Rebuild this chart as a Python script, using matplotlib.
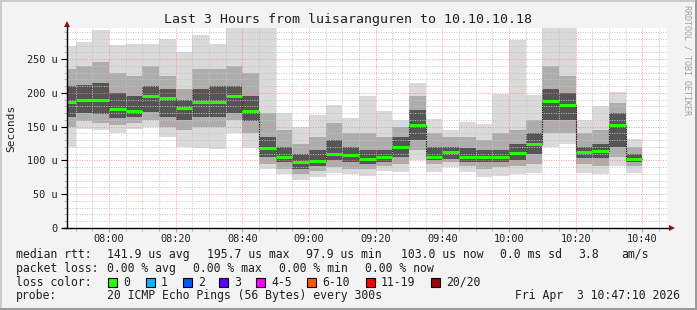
import matplotlib
matplotlib.use("Agg")
import matplotlib.pyplot as plt
from matplotlib.patches import Rectangle
import pandas as pd

# ---- data ----
interval_start = ["07:45", "07:50", "07:55", "08:00", "08:05", "08:10", "08:15",
                  "08:20", "08:25", "08:30", "08:35", "08:40", "08:45", "08:50",
                  "08:55", "09:00", "09:05", "09:10", "09:15", "09:20", "09:25",
                  "09:30", "09:35", "09:40", "09:45", "09:50", "09:55", "10:00",
                  "10:05", "10:10", "10:15", "10:20", "10:25", "10:30", "10:35"]
rtt_min = [120, 146, 145, 140, 147, 150, 135, 120, 118, 117, 140, 119, 87, 80, 71,
           76, 81, 80, 77.5, 85, 83, 100.6, 83, 90.7, 83, 75, 77.5, 80, 82, 120,
           124, 82, 80, 92, 82]
rtt_p10 = [150, 158, 155, 152, 155, 160, 150, 145, 150, 150, 160, 140, 95, 88, 80,
           85, 90, 88, 88, 92, 95, 115, 95, 97, 92, 88, 90, 92, 95, 140,
           140, 95, 92, 105, 92]
rtt_p25 = [165, 170, 168, 163, 165, 172, 165, 160, 165, 165, 170, 158, 105, 97, 88,
           92, 100, 98, 95, 98, 105, 130, 100, 102, 98, 97, 98, 100, 110, 160,
           160, 103, 103, 120, 98]
rtt_median = [187, 189.5, 189.5, 176, 173, 195, 192, 177.5, 186, 187, 195, 173.5, 119,
              105.5, 97.6, 99.6, 110, 108.5, 102.5, 105.5, 120, 152, 105.5, 112.4,
              105.5, 105.5, 105.5, 111.4, 124, 188, 182, 112.4, 114.4, 152, 102.5]
rtt_p75 = [210, 212, 215, 200, 195, 210, 205, 190, 205, 210, 210, 195, 135, 120, 110,
           115, 130, 120, 115, 115, 135, 175, 120, 120, 118, 115, 115, 125, 140, 205,
           200, 120, 125, 170, 110]
rtt_p90 = [235, 240, 245, 230, 225, 240, 225, 205, 235, 235, 240, 230, 170, 145, 125,
           135, 155, 140, 140, 135, 150, 195, 140, 135, 135, 130, 140, 145, 160, 240,
           225, 140, 145, 185, 120]
rtt_max = [269, 275, 293, 271, 272, 272, 280, 261, 286, 272, 296, 296, 296, 170, 149,
           167, 182, 163, 195, 173.5, 160, 215, 162, 145, 157, 154, 198, 278, 197, 296,
           296, 160, 180, 200.7, 131.6]

x_tick_labels = ["08:00", "08:20", "08:40", "09:00", "09:20", "09:40", "10:00", "10:20", "10:40"]
y_ticks = [0, 50, 100, 150, 200, 250]
y_tick_labels = ["0", "50 u", "100 u", "150 u", "200 u", "250 u"]
loss_labels = ["0", "1", "2", "3", "4-5", "6-10", "11-19", "20/20"]
loss_colors = ["#26ff00", "#00b8ff", "#0059ff", "#5e00ff", "#ff00ff", "#ff5500", "#ff0000", "#a00000"]

# ---- helpers ----
W, H = 697, 310
MONO = "DejaVu Sans Mono"


def minutes(s):
    t = pd.Timestamp("2026-04-03 " + s)
    return t.hour * 60 + t.minute + t.second / 60


def fx(x):
    return x / W


def fy(y):
    return 1 - y / H


starts = [minutes(s) for s in interval_start]
x0, x1 = minutes("07:47:24"), minutes("10:47:24")
ymax = 296

fig = plt.figure(figsize=(W / 100, H / 100), dpi=100, facecolor="#f3f3f3")

# frame shading
fig.patches.append(Rectangle((0, 1 - 2 / H), 1, 2 / H, transform=fig.transFigure, color="#cbcbcb", lw=0))
fig.patches.append(Rectangle((0, 0), 2 / W, 1, transform=fig.transFigure, color="#cbcbcb", lw=0))
fig.patches.append(Rectangle((1 - 2 / W, 0), 2 / W, 1, transform=fig.transFigure, color="#9b9b9b", lw=0))
fig.patches.append(Rectangle((0, 0), 1, 2 / H, transform=fig.transFigure, color="#9b9b9b", lw=0))

ax = fig.add_axes([fx(67), fy(228), 600 / W, 200 / H])
ax.set_facecolor("white")
ax.set_xlim(x0, x1)
ax.set_ylim(0, ymax)

# smoke layers
layers = [(rtt_min, rtt_max, "#dadada"), (rtt_p10, rtt_p90, "#adadad"), (rtt_p25, rtt_p75, "#555555")]
for lo, hi, c in layers:
    ax.bar(starts, [h - l for l, h in zip(lo, hi)], bottom=lo, width=5, align="edge",
           color=c, lw=0, zorder=1)

# median: dark step connectors + green segments
step_x = []
step_y = []
for s, m in zip(starts, rtt_median):
    step_x += [s, s + 5]
    step_y += [m, m]
ax.plot(step_x, step_y, color="#202020", lw=0.8, zorder=2)
ax.hlines(rtt_median, starts, [s + 5 for s in starts], colors=loss_colors[0], lw=2.2, zorder=4)

# grid
major_x = [minutes(t) for t in x_tick_labels]
minor_x = [m for m in range(470, 650, 5)]
ax.set_xticks(major_x)
ax.set_xticklabels(x_tick_labels)
ax.set_xticks(minor_x, minor=True)
ax.set_yticks(y_ticks)
ax.set_yticklabels(y_tick_labels)
ax.set_yticks(range(0, 300, 10), minor=True)
ax.set_axisbelow(False)
ax.grid(which="minor", color="#c4c4c4", lw=0.7, ls=(0, (1, 1.5)), zorder=3)
ax.grid(which="major", color="#ff8080", lw=0.7, ls=(0, (1, 1.5)), alpha=0.8, zorder=3)
for t in ax.xaxis.get_gridlines() + ax.yaxis.get_gridlines():
    t.set_zorder(3)

for sp in ["top", "right", "left", "bottom"]:
    ax.spines[sp].set_visible(False)

ax.tick_params(axis="both", which="major", length=3, width=0.8, color="#ff8080",
               labelsize=7.4, pad=3)
ax.tick_params(axis="x", which="major", pad=1.5)
ax.tick_params(axis="y", which="major", color="black", length=4)
ax.tick_params(axis="both", which="minor", length=2, width=0.6, color="#aaaaaa")
for lab in ax.get_xticklabels() + ax.get_yticklabels():
    lab.set_family(MONO)
    lab.set_color("#202020")

# axis lines with arrows
ax.plot([x0 - 1.2, x1 + 0.3], [0, 0], color="black", lw=1, clip_on=False, zorder=5)
ax.plot([x0, x0], [0, ymax + 6], color="black", lw=1, clip_on=False, zorder=5)
ax.plot([x1 + 1.6], [0], marker=">", ms=5, color="#8b1010", clip_on=False, zorder=6, mew=0)
ax.plot([x0], [ymax + 6], marker="^", ms=5, color="#8b1010", clip_on=False, zorder=6, mew=0)

# titles / labels
fig.text(fx(347.7), fy(19.3), "Last 3 Hours from luisaranguren to 10.10.10.18", family=MONO,
         fontsize=9.5, ha="center", va="center", color="#202020")
fig.text(fx(11), fy(128), "Seconds", family=MONO, fontsize=8, rotation=90,
         ha="center", va="center", color="#202020")
fig.text(fx(687), fy(60), "RRDTOOL / TOBI OETIKER", family=MONO, fontsize=6, rotation=270,
         ha="center", va="center", color="#a0a0a0")

FS = 8.3
TXT = "#202020"
rows = [
    (254.3, [(16, "median rtt:"), (107.3, "141.9 us avg"), (207.3, "195.7 us max"),
             (305.7, "97.9 us min"), (400.7, "103.0 us now"), (500, "0.0 ms sd"),
             (578.7, "3.8"), (621, "am/s")]),
    (268.3, [(16, "packet loss:"), (107.3, "0.00 % avg"), (193.3, "0.00 % max"),
             (279.3, "0.00 % min"), (365, "0.00 % now")]),
    (282.3, [(16, "loss color:")]),
    (296, [(16, "probe:"), (107.3, "20 ICMP Echo Pings (56 Bytes) every 300s")]),
]
for y, items in rows:
    for x, s in items:
        fig.text(fx(x), fy(y), s, family=MONO, fontsize=FS, ha="left", va="center", color=TXT)
fig.text(fx(680), fy(296), "Fri Apr  3 10:47:10 2026", family=MONO, fontsize=FS,
         ha="right", va="center", color=TXT)

sq_x = [108, 145.7, 182.7, 219.3, 256, 307.3, 365.7, 430.7]
for x, lab, c in zip(sq_x, loss_labels, loss_colors):
    fig.patches.append(Rectangle((fx(x), fy(286.5)), 9 / W, 9 / H, transform=fig.transFigure,
                                 facecolor=c, edgecolor="black", lw=0.8))
    fig.text(fx(x + 15), fy(282.3), lab, family=MONO, fontsize=FS, ha="left", va="center", color=TXT)

fig.savefig("out.png", dpi=100, facecolor=fig.get_facecolor())
